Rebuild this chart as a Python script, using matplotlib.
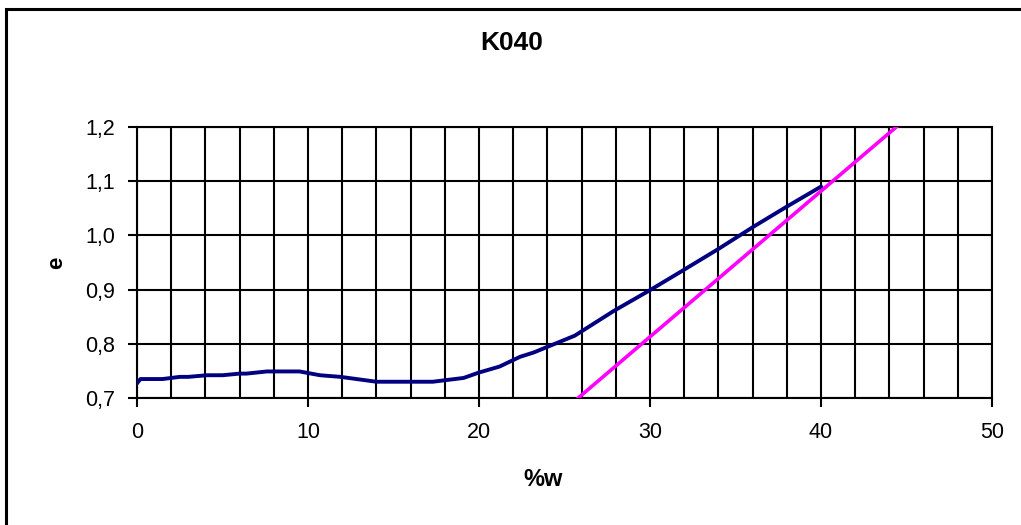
import numpy as np
import matplotlib
matplotlib.use("Agg")
import matplotlib.pyplot as plt
from matplotlib.ticker import MultipleLocator, FuncFormatter
from matplotlib.patches import Rectangle

plt.rcParams['font.family'] = ['Liberation Sans', 'DejaVu Sans']

# curve e vs %w
w_vals = [0, 0.2, 1.5, 2.5, 3.0, 4.1, 5.0, 6.0, 6.4, 7.6, 9.5, 10.7, 11.9, 14.0,
          17.3, 19.1, 20.0, 21.2, 22.4, 23.2, 25.6, 27.9, 30.0, 31.8, 34.0,
          36.1, 38.05, 40.0]
e_vals = [0.727, 0.735, 0.735, 0.739, 0.739, 0.742, 0.742, 0.745, 0.745, 0.749,
          0.749, 0.742, 0.739, 0.730, 0.730, 0.737, 0.747, 0.758, 0.776, 0.784,
          0.815, 0.861, 0.899, 0.933, 0.975, 1.017, 1.054, 1.090]

# straight reference line
line_w = [25.8, 44.4]
line_e = [0.70, 1.20]

W, H = 1021, 525
fig = plt.figure(figsize=(W / 100, H / 100), dpi=100)

# outer chart border
fig.patches.append(Rectangle((6 / W, -0.05), 1.2, 1 - 9 / H + 0.05,
                             transform=fig.transFigure, fill=False,
                             edgecolor='black', linewidth=2.2))

ax = fig.add_axes([137 / W, 1 - 398 / H, 855 / W, 271 / H])
ax.plot(w_vals, e_vals, color='#000080', linewidth=2.8, zorder=3)
ax.plot(line_w, line_e, color='#FF00FF', linewidth=2.6, zorder=3)

ax.set_xlim(0, 50)
ax.set_ylim(0.7, 1.2)
ax.xaxis.set_major_locator(MultipleLocator(10))
ax.xaxis.set_minor_locator(MultipleLocator(2))
ax.yaxis.set_major_locator(MultipleLocator(0.1))
ax.yaxis.set_major_formatter(FuncFormatter(lambda v, p: f"{v:.1f}".replace('.', ',')))
ax.grid(which='both', axis='x', color='black', linewidth=1.5)
ax.grid(which='major', axis='y', color='black', linewidth=1.5)
ax.tick_params(axis='both', which='major', direction='out', length=6.5, width=1.5,
               labelsize=15.5, color='black')
ax.tick_params(axis='x', which='major', pad=11)
ax.tick_params(axis='y', which='major', pad=9)
ax.tick_params(axis='x', which='minor', length=0)
for s in ax.spines.values():
    s.set_linewidth(1.5)

fig.text(512 / W, 1 - 43 / H, "K040", ha='center', va='center',
         fontsize=19, fontweight='bold')
fig.text(57 / W, 1 - 263 / H, "e", ha='center', va='center', rotation=90,
         fontsize=16, fontweight='bold')
fig.text(543 / W, 1 - 480 / H, "%w", ha='center', va='center',
         fontsize=17, fontweight='bold')

fig.savefig("out.png", dpi=100)
